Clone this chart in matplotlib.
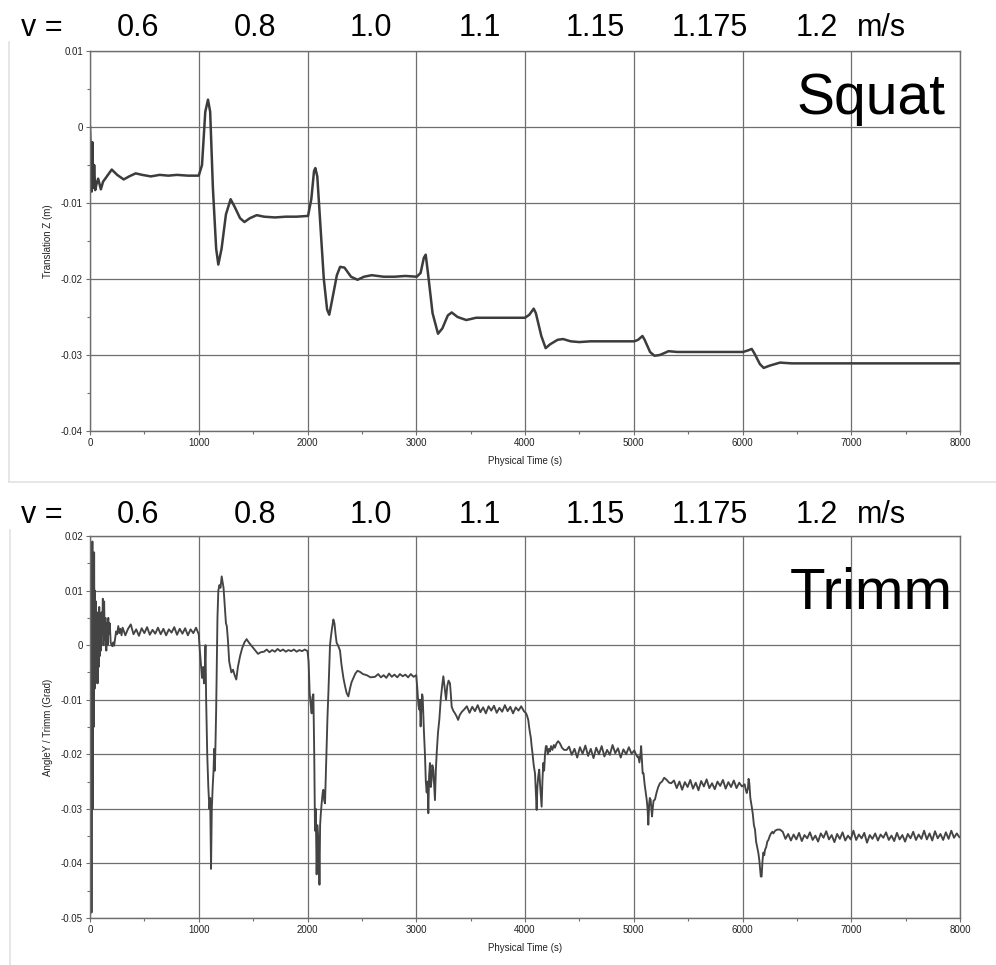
import matplotlib
matplotlib.use('Agg')
import matplotlib.pyplot as plt
from matplotlib.ticker import MultipleLocator
from matplotlib.lines import Line2D

plt.rcParams['font.family'] = ['Liberation Sans', 'DejaVu Sans']

# ---------------- data ----------------
velocities = ["0.6", "0.8", "1.0", "1.1", "1.15", "1.175", "1.2"]
velocity_unit = "m/s"

time_ticks = [0, 1000, 2000, 3000, 4000, 5000, 6000, 7000, 8000]
time_labels = ["0", "1000", "2000", "3000", "4000", "5000", "6000", "7000", "8000"]

squat_ticks = [0.01, 0.0, -0.01, -0.02, -0.03, -0.04]
squat_labels = ["0.01", "0", "-0.01", "-0.02", "-0.03", "-0.04"]
trimm_ticks = [0.02, 0.01, 0.0, -0.01, -0.02, -0.03, -0.04, -0.05]
trimm_labels = ["0.02", "0.01", "0", "-0.01", "-0.02", "-0.03", "-0.04", "-0.05"]

squat_time = [0, 8, 15, 22, 30, 38, 48, 60, 75, 100, 120, 150, 200, 250, 310, 360, 420, 480,
              560, 640, 720, 800, 900, 1000,
              1030, 1060, 1085, 1105, 1130, 1160, 1180, 1210, 1250, 1293, 1330, 1380, 1420,
              1470, 1533, 1600, 1700, 1800, 1900, 2005,
              2035, 2060, 2072, 2090, 2110, 2150, 2180, 2200, 2230, 2270, 2300, 2340, 2400,
              2460, 2520, 2590, 2700, 2800, 2900, 3005,
              3040, 3070, 3087, 3110, 3150, 3200, 3240, 3290, 3326, 3380, 3460, 3550, 3650,
              3800, 3900, 4000,
              4040, 4080, 4100, 4150, 4190, 4230, 4300, 4350, 4420, 4500, 4600, 4800, 5005,
              5040, 5080, 5100, 5150, 5190, 5240, 5320, 5400, 5600, 5800, 6005,
              6050, 6085, 6110, 6160, 6195, 6250, 6345, 6450, 6700, 7000, 7300, 7600, 8000]
squat_z = [0.0, -0.004, -0.0085, -0.002, -0.008, -0.005, -0.0083, -0.0075, -0.0068, -0.0082,
           -0.0072, -0.0066, -0.0056, -0.0063, -0.0069, -0.0065, -0.0061, -0.0063,
           -0.0065, -0.0063, -0.0064, -0.0063, -0.0064, -0.0064,
           -0.0050, 0.0020, 0.0036, 0.0020, -0.0080, -0.0160, -0.0181, -0.0160, -0.0115,
           -0.0095, -0.0105, -0.0120, -0.0125, -0.0120, -0.0116, -0.0118, -0.0119, -0.0118,
           -0.0118, -0.0117,
           -0.0095, -0.0058, -0.0054, -0.0065, -0.0110, -0.0200, -0.0240, -0.0247, -0.0225,
           -0.0195, -0.0184, -0.0185, -0.0197, -0.0201, -0.0197, -0.0195, -0.0197, -0.0197,
           -0.0196, -0.0197,
           -0.0192, -0.0172, -0.0168, -0.0195, -0.0245, -0.0272, -0.0265, -0.0248, -0.0244,
           -0.0250, -0.0254, -0.0251, -0.0251, -0.0251, -0.0251, -0.0251,
           -0.0247, -0.0239, -0.0245, -0.0275, -0.0291, -0.0286, -0.0280, -0.0279, -0.0282,
           -0.0283, -0.0282, -0.0282, -0.0282,
           -0.0280, -0.0275, -0.0280, -0.0296, -0.0301, -0.0300, -0.0295, -0.0296, -0.0296,
           -0.0296, -0.0296,
           -0.0294, -0.0292, -0.0298, -0.0312, -0.0317, -0.0314, -0.0310, -0.0311, -0.0311,
           -0.0311, -0.0311, -0.0311, -0.0311]

trimm_time = [
    # start-up
    0, 6, 10, 14, 18, 22, 26, 30, 34, 38, 42, 46, 50, 55, 60, 65, 70, 75, 80, 85, 90, 95,
    100, 105, 112, 118, 124, 130, 136, 142, 150, 156, 162, 168, 175, 182, 190, 198, 206,
    214, 222, 230, 240, 250, 260, 270, 280, 290,
    # 0.6 m/s
    300, 325, 350, 375, 400, 425, 450, 475, 500, 525, 550, 575, 600, 625, 650, 675, 700,
    725, 750, 775, 800, 825, 850, 875, 900, 925, 950, 975, 1000,
    # -> 0.8 m/s
    1010, 1020, 1030, 1040, 1048, 1055, 1062, 1068, 1078, 1088, 1098, 1105, 1113, 1120,
    1128, 1136, 1142, 1148, 1154, 1160, 1166, 1172, 1180, 1190, 1200, 1211, 1220, 1228,
    1240, 1250, 1258, 1268, 1280, 1290, 1300, 1315, 1330, 1345, 1360, 1380, 1400, 1420,
    1440, 1460, 1480, 1500, 1520, 1545, 1570, 1600,
    1625, 1650, 1675, 1700, 1725, 1750, 1775, 1800, 1825, 1850, 1875, 1900, 1925, 1950,
    1975, 2000,
    # -> 1.0 m/s
    2010, 2020, 2030, 2038, 2046, 2054, 2062, 2069, 2076, 2084, 2092, 2100, 2106, 2110,
    2116, 2122, 2130, 2140, 2146, 2154, 2161, 2168, 2176, 2184, 2192, 2200, 2207, 2215,
    2225, 2238, 2248, 2258, 2268, 2280, 2290, 2299, 2312, 2330, 2345, 2360, 2376, 2390,
    2405, 2422, 2440, 2460, 2483, 2510, 2544, 2580, 2621,
    2650, 2675, 2700, 2725, 2750, 2775, 2800, 2825, 2850, 2875, 2900, 2925, 2950, 2975, 3000,
    # -> 1.1 m/s
    3010, 3020, 3028, 3034, 3040, 3048, 3054, 3059, 3065, 3071, 3080, 3088, 3096, 3104,
    3111, 3118, 3126, 3134, 3141, 3148, 3157, 3165, 3172, 3180, 3188, 3200, 3212, 3225,
    3238, 3249, 3262, 3274, 3285, 3297, 3310, 3318, 3326, 3340, 3356, 3370, 3385, 3400,
    3420, 3440,
    3465, 3490, 3515, 3540, 3565, 3590, 3615, 3640, 3665, 3690, 3715, 3740, 3765, 3790,
    3815, 3840, 3865, 3890, 3915, 3940, 3965, 3990,
    # -> 1.15 m/s
    4010, 4020, 4030, 4038, 4046, 4054, 4061, 4070, 4080, 4092, 4100, 4107, 4114, 4122,
    4131, 4140, 4147, 4153, 4160, 4168, 4176, 4184, 4192, 4199, 4210, 4220, 4229, 4240,
    4252, 4265, 4275, 4290, 4305, 4321, 4340, 4360, 4383,
    4405, 4430, 4455, 4480, 4505, 4530, 4555, 4580, 4605, 4630, 4655, 4680, 4705, 4730,
    4755, 4780, 4805, 4830, 4855, 4880, 4905, 4930, 4955, 4980, 5005,
    # -> 1.175 m/s
    5020, 5035, 5042, 5052, 5062, 5068, 5075, 5082, 5090, 5100, 5110, 5119, 5127, 5134,
    5142, 5148, 5155, 5162, 5168, 5174, 5182, 5195, 5210, 5225, 5241, 5260, 5280, 5303,
    5325, 5345,
    5370, 5395, 5420, 5445, 5470, 5495, 5520, 5545, 5570, 5595, 5620, 5645, 5670, 5695,
    5720, 5745, 5770, 5795, 5820, 5845, 5870, 5895, 5920, 5945, 5970, 5995, 6020,
    # -> 1.2 m/s
    6030, 6039, 6050, 6056, 6063, 6072, 6085, 6095, 6105, 6115, 6125, 6135, 6146, 6155,
    6162, 6168, 6176, 6184, 6192, 6200, 6207, 6218, 6228, 6238, 6250, 6262, 6275, 6284,
    6300, 6320, 6345,
    6370, 6395, 6420, 6445, 6470, 6495, 6520, 6545, 6570, 6595, 6620, 6645, 6670, 6695,
    6720, 6745, 6770, 6795, 6820, 6845, 6870, 6895, 6920, 6945, 6970, 6995, 7020, 7045,
    7070, 7095, 7120, 7145, 7170, 7195, 7220, 7245, 7270, 7295, 7320, 7345, 7370, 7395,
    7420, 7445, 7470, 7495, 7520, 7545, 7570, 7595, 7620, 7645, 7670, 7695, 7720, 7745,
    7770, 7795, 7820, 7845, 7870, 7895, 7920, 7945, 7970, 7995]

trimm_angle = [
    # start-up
    0.0, -0.030, 0.010, -0.049, 0.005, 0.019, -0.030, 0.012, -0.015, 0.017, -0.008, 0.010,
    -0.007, 0.008, -0.006, 0.006, -0.007, 0.004, -0.004, 0.007, -0.002, 0.005, -0.001,
    0.006, 0.002, 0.0085, 0.000, 0.008, 0.001, 0.005, -0.001, 0.004, 0.000, 0.005, 0.002,
    0.004, 0.0005, 0.000, -0.0002, 0.0005, -0.0001, 0.001, 0.0025, 0.002, 0.0035, 0.0022,
    0.003, 0.0018,
    # 0.6 m/s
    0.0032, 0.0018, 0.0030, 0.0038, 0.0020, 0.0029, 0.0017, 0.0031, 0.0022, 0.0033, 0.0019,
    0.0028, 0.0021, 0.0032, 0.0020, 0.0030, 0.0018, 0.0029, 0.0023, 0.0033, 0.0019, 0.0030,
    0.0021, 0.0031, 0.0018, 0.0029, 0.0022, 0.0032, 0.0020,
    # -> 0.8 m/s
    -0.0010, -0.0035, -0.0060, -0.0040, -0.0070, -0.0050, 0.0000, -0.0100, -0.0200, -0.0260,
    -0.0300, -0.0280, -0.0410, -0.0300, -0.0260, -0.0230, -0.0190, -0.0230, -0.0180,
    -0.0120, -0.0040, 0.0050, 0.0100, 0.0110, 0.0105, 0.0126, 0.0115, 0.0105, 0.0070,
    0.0040, 0.0035, 0.0010, -0.0030, -0.0040, -0.0050, -0.0045, -0.0055, -0.0063, -0.0040,
    -0.0020, -0.0005, 0.0005, 0.0011, 0.0005, 0.0000, -0.0005, -0.0010, -0.0016, -0.0013,
    -0.0012,
    -0.0008, -0.0013, -0.0009, -0.0012, -0.0007, -0.0011, -0.0008, -0.0012, -0.0009,
    -0.0011, -0.0008, -0.0012, -0.0009, -0.0011, -0.0008, -0.0011,
    # -> 1.0 m/s
    -0.0030, -0.0088, -0.0110, -0.0125, -0.0095, -0.0090, -0.0200, -0.0340, -0.0300,
    -0.0420, -0.0330, -0.0360, -0.0380, -0.0439, -0.0330, -0.0310, -0.0290, -0.0270,
    -0.0265, -0.0285, -0.0290, -0.0240, -0.0185, -0.0130, -0.0088, -0.0040, 0.0000,
    0.0015, 0.0030, 0.0047, 0.0040, 0.0020, 0.0004, 0.0000, -0.0005, -0.0010, -0.0035,
    -0.0060, -0.0075, -0.0088, -0.0094, -0.0080, -0.0068, -0.0060, -0.0052, -0.0047,
    -0.0049, -0.0053, -0.0055, -0.0059, -0.0058,
    -0.0053, -0.0059, -0.0055, -0.0060, -0.0052, -0.0058, -0.0054, -0.0059, -0.0053,
    -0.0057, -0.0054, -0.0059, -0.0053, -0.0058, -0.0055,
    # -> 1.1 m/s
    -0.0080, -0.0110, -0.0118, -0.0100, -0.0149, -0.0110, -0.0090, -0.0094, -0.0130,
    -0.0160, -0.0200, -0.0250, -0.0270, -0.0250, -0.0308, -0.0240, -0.0216, -0.0260,
    -0.0247, -0.0220, -0.0228, -0.0260, -0.0284, -0.0230, -0.0198, -0.0160, -0.0137,
    -0.0100, -0.0075, -0.0057, -0.0080, -0.0100, -0.0075, -0.0065, -0.0070, -0.0090,
    -0.0113, -0.0120, -0.0125, -0.0130, -0.0137, -0.0128, -0.0122, -0.0118,
    -0.0112, -0.0124, -0.0113, -0.0121, -0.0110, -0.0123, -0.0114, -0.0125, -0.0112,
    -0.0120, -0.0111, -0.0124, -0.0115, -0.0122, -0.0110, -0.0121, -0.0113, -0.0125,
    -0.0114, -0.0120, -0.0112, -0.0121,
    # -> 1.15 m/s
    -0.0125, -0.0130, -0.0137, -0.0150, -0.0161, -0.0170, -0.0185, -0.0200, -0.0220,
    -0.0235, -0.0270, -0.0302, -0.0260, -0.0240, -0.0228, -0.0260, -0.0280, -0.0296,
    -0.0250, -0.0216, -0.0230, -0.0200, -0.0185, -0.0185, -0.0200, -0.0190, -0.0195,
    -0.0185, -0.0192, -0.0183, -0.0188, -0.0180, -0.0176, -0.0180, -0.0188, -0.0192,
    -0.0192,
    -0.0186, -0.0201, -0.0190, -0.0206, -0.0187, -0.0199, -0.0184, -0.0203, -0.0190,
    -0.0207, -0.0188, -0.0200, -0.0185, -0.0204, -0.0192, -0.0201, -0.0183, -0.0198,
    -0.0189, -0.0206, -0.0191, -0.0200, -0.0187, -0.0199, -0.0193,
    # -> 1.175 m/s
    -0.0200, -0.0205, -0.0204, -0.0215, -0.0200, -0.0185, -0.0210, -0.0235, -0.0235,
    -0.0255, -0.0270, -0.0283, -0.0300, -0.0329, -0.0290, -0.0280, -0.0283, -0.0300,
    -0.0314, -0.0300, -0.0285, -0.0283, -0.0270, -0.0260, -0.0253, -0.0250, -0.0243,
    -0.0247, -0.0252, -0.0253,
    -0.0248, -0.0262, -0.0250, -0.0265, -0.0251, -0.0260, -0.0247, -0.0263, -0.0252,
    -0.0266, -0.0249, -0.0259, -0.0246, -0.0262, -0.0253, -0.0264, -0.0250, -0.0258,
    -0.0247, -0.0263, -0.0251, -0.0260, -0.0248, -0.0262, -0.0252, -0.0259, -0.0255,
    # -> 1.2 m/s
    -0.0265, -0.0271, -0.0262, -0.0245, -0.0253, -0.0280, -0.0296, -0.0310, -0.0330,
    -0.0338, -0.0360, -0.0370, -0.0381, -0.0395, -0.0410, -0.0424, -0.0424, -0.0395,
    -0.0380, -0.0385, -0.0375, -0.0370, -0.0360, -0.0357, -0.0350, -0.0345, -0.0342,
    -0.0345, -0.0340, -0.0338, -0.0338,
    -0.0342, -0.0355, -0.0346, -0.0358, -0.0347, -0.0356, -0.0344, -0.0359, -0.0348,
    -0.0354, -0.0343, -0.0357, -0.0349, -0.0360, -0.0345, -0.0353, -0.0341, -0.0356,
    -0.0348, -0.0361, -0.0346, -0.0355, -0.0343, -0.0358, -0.0349, -0.0356, -0.0340,
    -0.0357, -0.0347, -0.0354, -0.0344, -0.0362, -0.0348, -0.0355, -0.0345, -0.0358,
    -0.0347, -0.0353, -0.0343, -0.0357, -0.0349, -0.0359, -0.0344, -0.0356, -0.0348,
    -0.0360, -0.0346, -0.0354, -0.0342, -0.0357, -0.0347, -0.0355, -0.0340, -0.0356,
    -0.0345, -0.0358, -0.0341, -0.0354, -0.0346, -0.0357, -0.0343, -0.0355, -0.0340,
    -0.0353, -0.0345, -0.0352]

# ---------------- layout ----------------
W, H = 996, 965
fig = plt.figure(figsize=(W / 100, H / 100), dpi=100)
fig.patch.set_facecolor('white')


def fx(px):
    return px / W


def fy(py):
    return 1 - py / H


GRID = '#6e6e6e'
LINE = '#3c3c3c'
TXT = '#222222'


def make_axes(top_px, bottom_px):
    return fig.add_axes([fx(90), fy(bottom_px), fx(960) - fx(90), fy(top_px) - fy(bottom_px)])


def style(ax, yticks, ylabels, ylabel):
    ax.set_xlim(time_ticks[0], time_ticks[-1])
    ax.set_ylim(yticks[-1], yticks[0])
    ax.set_xticks(time_ticks)
    ax.set_xticklabels(time_labels)
    ax.set_yticks(yticks)
    ax.set_yticklabels(ylabels)
    ax.xaxis.set_minor_locator(MultipleLocator(500))
    ax.yaxis.set_minor_locator(MultipleLocator(0.005))
    ax.grid(which='major', color=GRID, linewidth=0.9)
    ax.set_axisbelow(True)
    for s in ax.spines.values():
        s.set_color(GRID)
        s.set_linewidth(1.0)
    ax.tick_params(which='major', direction='out', length=3, width=0.8, color=GRID,
                   labelsize=7, labelcolor=TXT, pad=2)
    ax.tick_params(which='minor', direction='out', length=2, width=0.8, color=GRID)
    ax.set_xlabel("Physical Time (s)", fontsize=7, color=TXT)
    ax.xaxis.set_label_coords(0.5, -0.066)
    ax.set_ylabel(ylabel, fontsize=7, color=TXT)
    ax.yaxis.set_label_coords(-0.0425, 0.5)


ax1 = make_axes(51, 431)
ax1.plot(squat_time, squat_z, color=LINE, linewidth=1.8)
style(ax1, squat_ticks, squat_labels, "Translation Z (m)")

ax2 = make_axes(536, 918)
ax2.plot(trimm_time, trimm_angle, color='#444444', linewidth=1.35)
style(ax2, trimm_ticks, trimm_labels, "AngleY / Trimm (Grad)")

# big panel names
fig.text(fx(945), fy(114), "Squat", fontsize=41, ha='right', va='baseline', color='black')
fig.text(fx(953), fy(609), "Trimm", fontsize=42, ha='right', va='baseline', color='black')

# velocity header rows
label_x = [138, 255, 371, 480, 595, 710, 817]
for base in (36, 523):
    fig.text(fx(42), fy(base), "v =", fontsize=22, ha='center', va='baseline', color='black')
    for x, v in zip(label_x, velocities):
        fig.text(fx(x), fy(base), v, fontsize=22, ha='center', va='baseline', color='black')
    fig.text(fx(882), fy(base), velocity_unit, fontsize=22, ha='center', va='baseline',
             color='black')

# light panel frames
FRAME = '#e2e2e2'
fig.add_artist(Line2D([fx(9), fx(9)], [fy(42), fy(482)], color=FRAME, linewidth=1.2))
fig.add_artist(Line2D([fx(9), fx(996)], [fy(482), fy(482)], color=FRAME, linewidth=1.2))
fig.add_artist(Line2D([fx(10), fx(10)], [fy(530), fy(965)], color=FRAME, linewidth=1.2))

fig.savefig("out.png", dpi=100)
